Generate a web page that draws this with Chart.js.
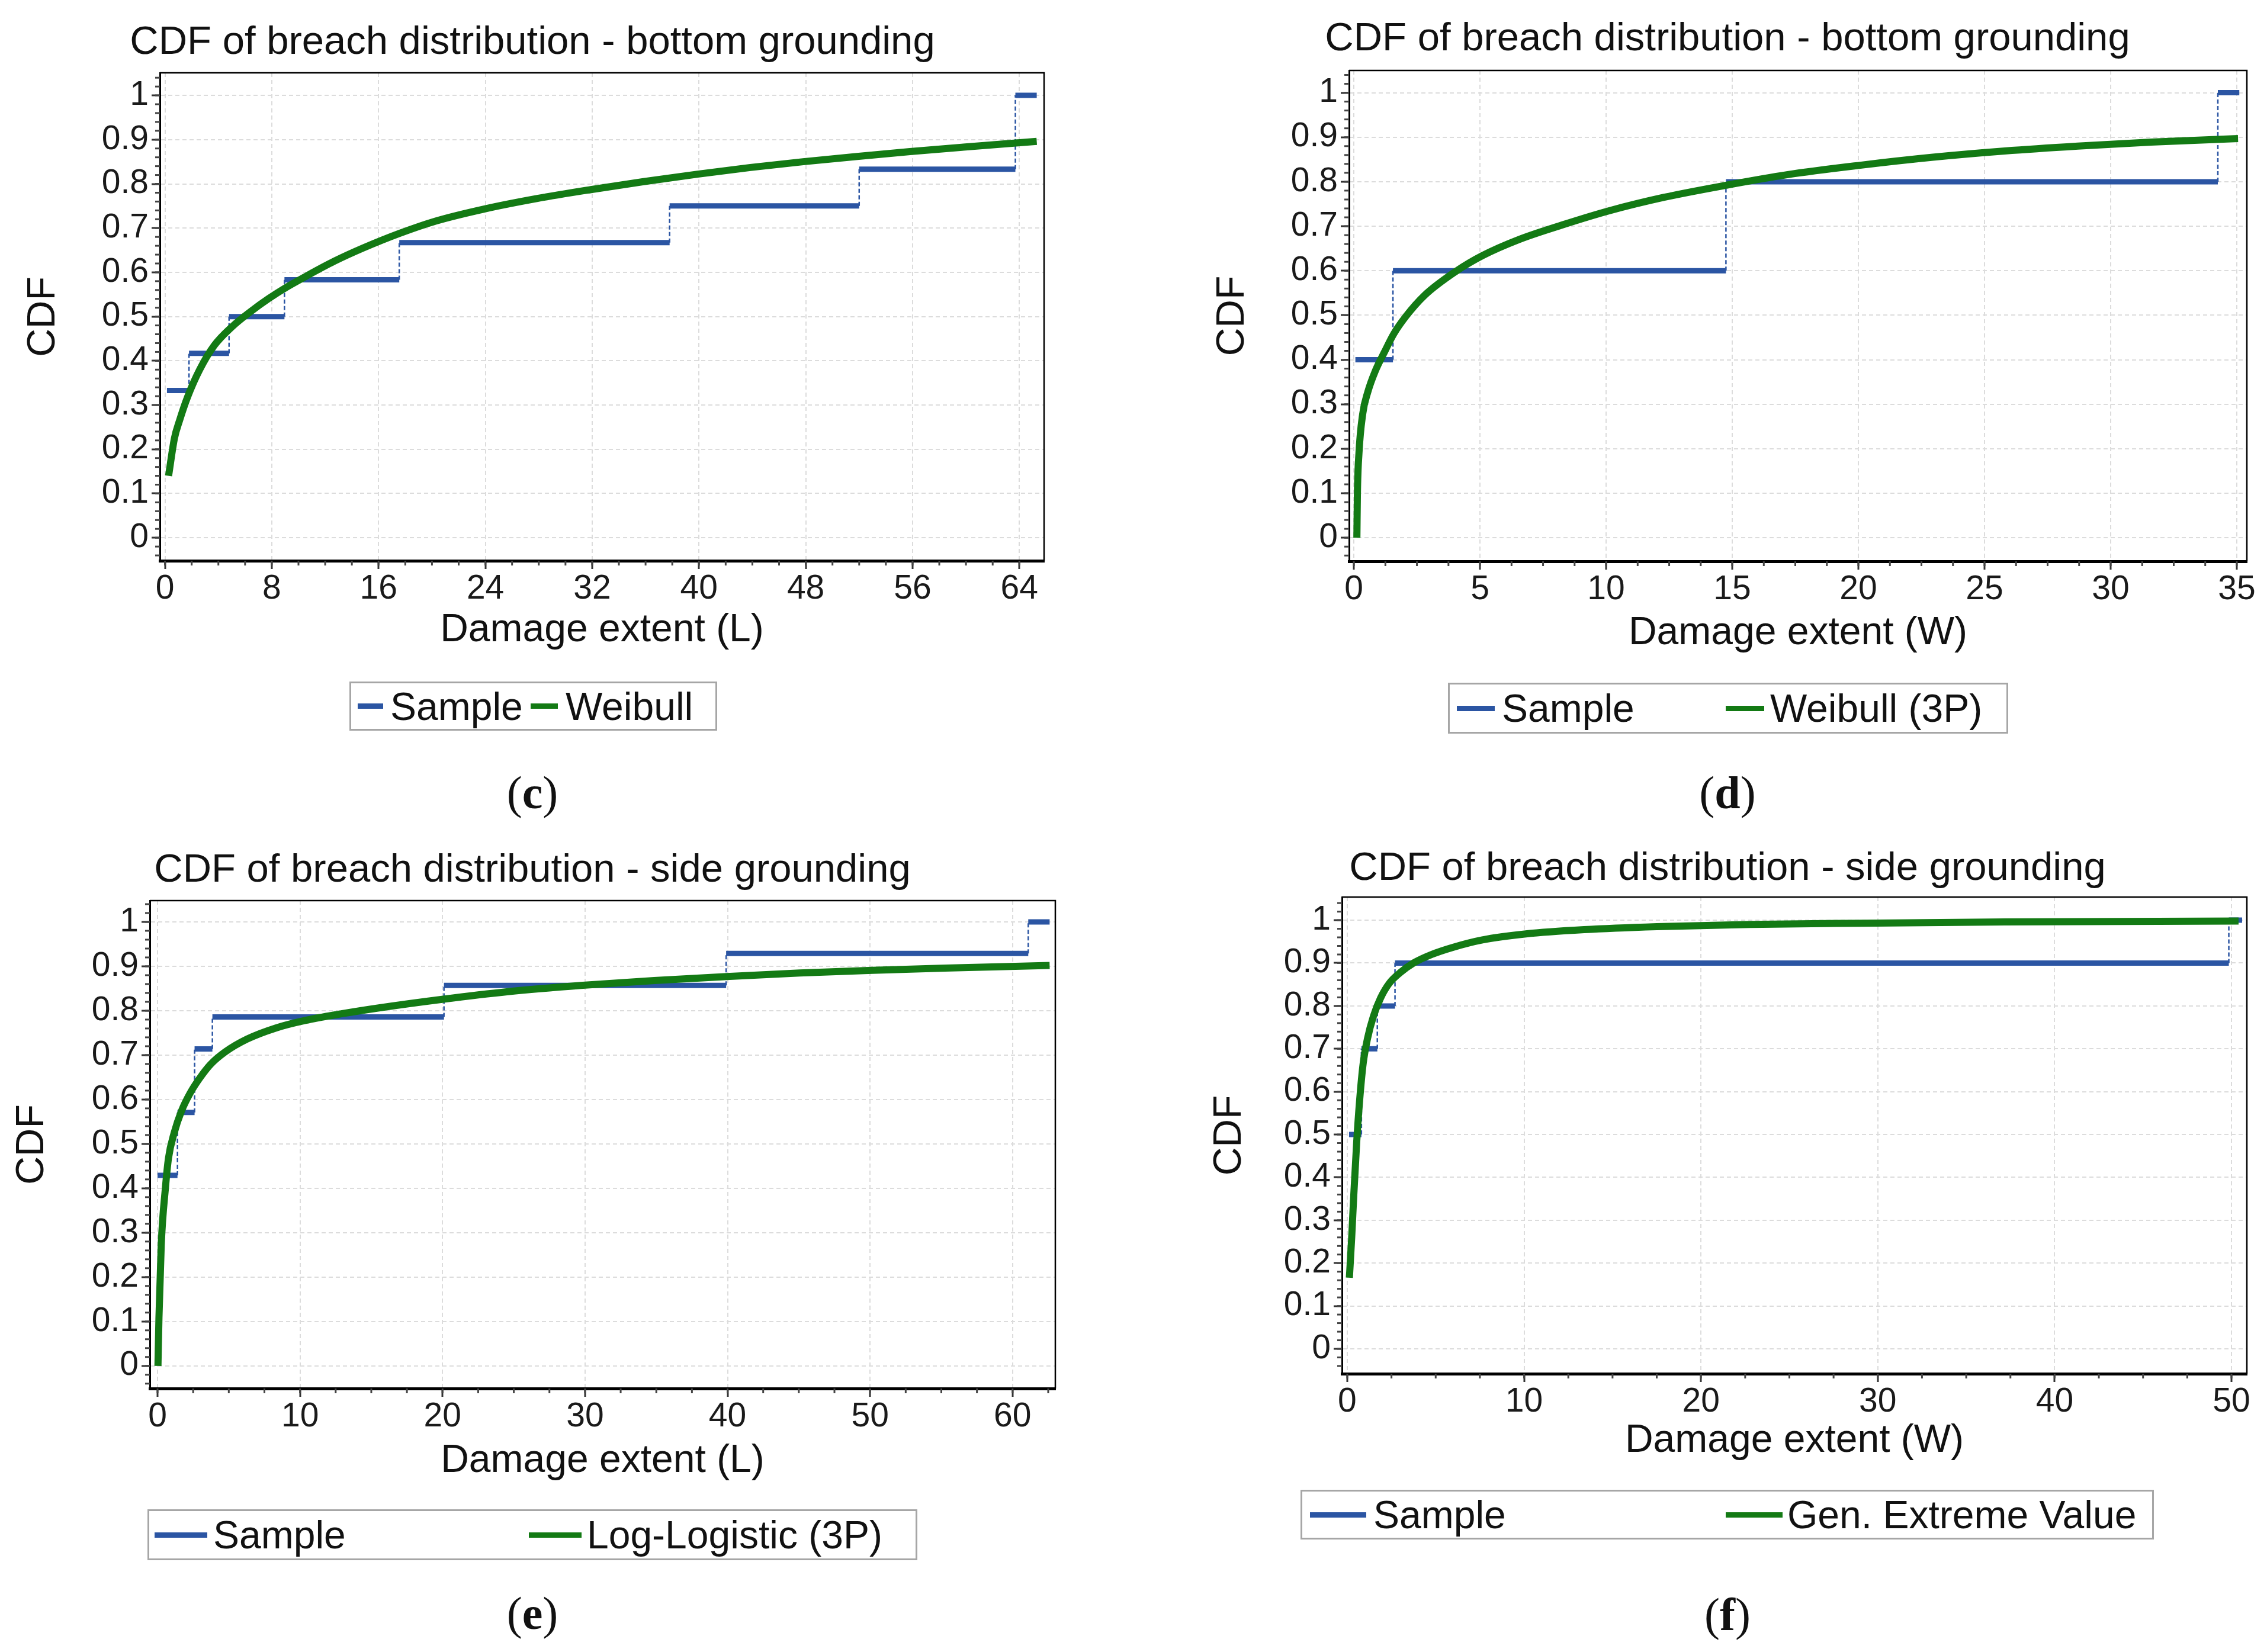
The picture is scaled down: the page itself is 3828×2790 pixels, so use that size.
<!DOCTYPE html>
<html><head><meta charset="utf-8">
<script src="https://cdn.jsdelivr.net/npm/chart.js@4.4.1/dist/chart.umd.min.js"></script>
<style>
html,body{margin:0;padding:0;background:#fff;}
#page{position:relative;width:3828px;height:2790px;overflow:hidden;background:#fff;font-family:"Liberation Sans",Arial,sans-serif;}
canvas{position:absolute;}
.title{position:absolute;width:2000px;text-align:center;font-size:67px;line-height:1;color:#111;white-space:nowrap;}
.legend{position:absolute;border:3px solid #a6a6a6;box-sizing:border-box;}
.lg-line{position:absolute;height:9px;}
.lg-text{position:absolute;font-size:66px;line-height:1;color:#111;white-space:nowrap;}
.caption{position:absolute;width:400px;text-align:center;font-family:"Liberation Serif","DejaVu Serif",serif;font-size:78px;line-height:1;color:#111;}
</style></head>
<body><div id="page"></div>
<script>
// ---------------- DATA ----------------
const yTicks = [0, 0.1, 0.2, 0.3, 0.4, 0.5, 0.6, 0.7, 0.8, 0.9, 1];

// (c) bottom grounding, length, Weibull
const cTicksX = [0, 8, 16, 24, 32, 40, 48, 56, 64];
const cSampleX = [0.15, 1.8, 4.8, 8.95, 17.55, 37.8, 52.0, 63.7];
const cSampleY = [0.333, 0.417, 0.5, 0.583, 0.667, 0.75, 0.833, 1.0];
const cSampleEnd = 65.3;
const cFitX = [0.27, 0.71, 1.09, 1.69, 2.6, 3.7, 5.06, 6.4, 7.78, 9.14, 10.5, 12.68, 14.85, 17.57, 20.3, 23.9, 27.9, 31.9, 35.85, 39.9, 43.85, 47.8, 51.85, 55.8, 59.8, 65.3];
const cFitY = [0.14, 0.225, 0.265, 0.318, 0.38, 0.435, 0.478, 0.511, 0.541, 0.567, 0.59, 0.625, 0.655, 0.688, 0.716, 0.743, 0.767, 0.787, 0.805, 0.822, 0.837, 0.85, 0.862, 0.873, 0.883, 0.896];

// (d) bottom grounding, width, Weibull (3P)
const dTicksX = [0, 5, 10, 15, 20, 25, 30, 35];
const dSampleX = [0.06, 1.55, 14.75, 34.25];
const dSampleY = [0.4, 0.6, 0.8, 1.0];
const dSampleEnd = 35.1;
const dFitX = [0.12, 0.14, 0.2, 0.35, 0.55, 0.86, 1.21, 1.58, 2.07, 2.79, 4.03, 5.1, 6.54, 8.27, 10.14, 12.3, 14.75, 17.2, 20.07, 22.95, 25.8, 28.7, 31.6, 35.05];
const dFitY = [0.0, 0.098, 0.188, 0.278, 0.327, 0.376, 0.417, 0.458, 0.498, 0.544, 0.598, 0.634, 0.67, 0.703, 0.735, 0.765, 0.792, 0.816, 0.837, 0.855, 0.869, 0.88, 0.889, 0.897];

// (e) side grounding, length, Log-Logistic (3P)
const eTicksX = [0, 10, 20, 30, 40, 50, 60];
const eSampleX = [0.0, 1.4, 2.6, 3.85, 20.1, 39.9, 61.1];
const eSampleY = [0.429, 0.571, 0.714, 0.786, 0.857, 0.929, 1.0];
const eSampleEnd = 62.6;
const eFitX = [0.03, 0.1, 0.26, 0.56, 0.77, 1.17, 1.68, 2.3, 2.96, 3.72, 4.74, 6.28, 8.3, 10.36, 12.9, 15.46, 20.05, 24.6, 29.7, 34.85, 39.95, 45.05, 50.15, 55.25, 62.6];
const eFitY = [0.0, 0.108, 0.272, 0.403, 0.468, 0.525, 0.574, 0.615, 0.648, 0.679, 0.707, 0.736, 0.761, 0.778, 0.793, 0.806, 0.826, 0.843, 0.857, 0.868, 0.877, 0.885, 0.891, 0.896, 0.902];

// (f) side grounding, width, Gen. Extreme Value
const fTicksX = [0, 10, 20, 30, 40, 50];
const fSampleX = [0.1, 0.8, 1.7, 2.7, 49.85];
const fSampleY = [0.5, 0.7, 0.8, 0.9, 1.0];
const fSampleEnd = 50.6;
const fFitX = [0.12, 0.25, 0.37, 0.53, 0.7, 0.9, 1.15, 1.48, 1.89, 2.38, 3.0, 3.74, 4.77, 6.0, 7.64, 10.1, 13.4, 17.5, 22.8, 29.0, 37.2, 50.4];
const fFitY = [0.166, 0.26, 0.36, 0.48, 0.58, 0.666, 0.725, 0.776, 0.819, 0.853, 0.878, 0.9, 0.92, 0.937, 0.954, 0.968, 0.978, 0.985, 0.99, 0.993, 0.996, 0.998];

const chartTitles = ['CDF of breach distribution - bottom grounding', 'CDF of breach distribution - bottom grounding', 'CDF of breach distribution - side grounding', 'CDF of breach distribution - side grounding'];
const xTitles = ['Damage extent (L)', 'Damage extent (W)', 'Damage extent (L)', 'Damage extent (W)'];
const yTitle = 'CDF';
const sampleName = 'Sample';
const fitNames = ['Weibull', 'Weibull (3P)', 'Log-Logistic (3P)', 'Gen. Extreme Value'];
const captions = ['c', 'd', 'e', 'f'];

// ---------------- STYLE / LAYOUT ----------------
const BLUE = '#2b55a3';
const GREEN = '#137a14';
Chart.defaults.font.family = '"Liberation Sans", Arial, sans-serif';

const panels = [
  {sx:cSampleX, sy:cSampleY, se:cSampleEnd, fx:cFitX, fy:cFitY, ticks:cTicksX, minor:2, xmin:-0.38, xmax:65.85, ymin:-0.052, ymax:1.051,
   L:270, T:123, R:1763, B:947, yt:74, xt:1065, tc:[899,67], cap:[899,1341],
   box:[590,1151,1211,1234], l1:[604,647], t1:659, l2:[896,942], t2:955},
  {sx:dSampleX, sy:dSampleY, se:dSampleEnd, fx:dFitX, fy:dFitY, ticks:dTicksX, minor:1.25, xmin:-0.19, xmax:35.4, ymin:-0.053, ymax:1.05,
   L:2278, T:119, R:3794, B:948, yt:2082, xt:1070, tc:[2917,61], cap:[2917,1341],
   box:[2445,1153,3391,1239], l1:[2460,2524], t1:2536, l2:[2914,2979], t2:2989},
  {sx:eSampleX, sy:eSampleY, se:eSampleEnd, fx:eFitX, fy:eFitY, ticks:eTicksX, minor:2.5, xmin:-0.54, xmax:63.0, ymin:-0.051, ymax:1.048,
   L:253, T:1521, R:1782, B:2345, yt:55, xt:2468, tc:[899,1465], cap:[899,2727],
   box:[249,2549,1549,2635], l1:[261,350], t1:360, l2:[893,982], t2:991},
  {sx:fSampleX, sy:fSampleY, se:fSampleEnd, fx:fFitX, fy:fFitY, ticks:fTicksX, minor:2.5, xmin:-0.3, xmax:50.87, ymin:-0.058, ymax:1.054,
   L:2266, T:1515, R:3794, B:2320, yt:2077, xt:2434, tc:[2917,1462], cap:[2917,2729],
   box:[2196,2516,3637,2600], l1:[2212,2307], t1:2319, l2:[2914,3010], t2:3018}
];

const page = document.getElementById('page');
function el(tag, cls, css, html){ const e=document.createElement(tag); if(cls) e.className=cls; Object.assign(e.style, css||{}); if(html!==undefined) e.innerHTML=html; page.appendChild(e); return e; }

const framePlugin = {
  id:'frame',
  afterDraw(chart){
    const {ctx, chartArea:a} = chart;
    ctx.save(); ctx.strokeStyle='#000'; ctx.lineWidth=2.5; ctx.setLineDash([]);
    ctx.beginPath(); ctx.moveTo(a.left, a.top); ctx.lineTo(a.right, a.top); ctx.lineTo(a.right, a.bottom); ctx.stroke();
    ctx.restore();
  }
};
const minorPlugin = {
  id:'minorTicks',
  afterDraw(chart, args, opts){
    const {ctx, chartArea:a, scales} = chart;
    ctx.save(); ctx.strokeStyle='#444'; ctx.lineWidth=3; ctx.setLineDash([]);
    const xs = scales.x, ys = scales.y;
    let v = Math.ceil(xs.min/opts.x - 1e-9)*opts.x;
    for(; v <= xs.max + 1e-9; v += opts.x){ const p = xs.getPixelForValue(v); ctx.beginPath(); ctx.moveTo(p, a.bottom); ctx.lineTo(p, a.bottom+8); ctx.stroke(); }
    v = Math.ceil(ys.min/opts.y - 1e-9)*opts.y;
    for(; v <= ys.max + 1e-9; v += opts.y){ const p = ys.getPixelForValue(v); ctx.beginPath(); ctx.moveTo(a.left-8, p); ctx.lineTo(a.left, p); ctx.stroke(); }
    ctx.restore();
  }
};

function yLabel(v){ if (Math.abs(v) < 1e-9) return '0'; if (Math.abs(v-1) < 1e-9) return '1'; return v.toFixed(1); }

panels.forEach((P, i) => {
  const off = 50;
  const cl = P.yt - off, ct = P.T - 20, cr = P.R + 24, cb = P.xt + off;
  const W = cr - cl, H = cb - ct;
  const yW = P.L - cl, xH = cb - P.B;
  const cv = el('canvas', '', {left: cl+'px', top: ct+'px', width: W+'px', height: H+'px'});
  cv.width = W; cv.height = H;

  const fit = P.fx.map((x, k) => ({x, y: P.fy[k]}));
  const hSeg = [], vSeg = [];
  for (let k = 0; k < P.sx.length; k++) {
    const x2 = k < P.sx.length - 1 ? P.sx[k+1] : P.se;
    hSeg.push({x: P.sx[k], y: P.sy[k]}, {x: x2, y: P.sy[k]}, {x: x2, y: null});
    if (k < P.sx.length - 1) vSeg.push({x: P.sx[k+1], y: P.sy[k]}, {x: P.sx[k+1], y: P.sy[k+1]}, {x: P.sx[k+1], y: null});
  }
  const titleFont = {size: 66};
  new Chart(cv, {
    type: 'line',
    data: {datasets: [
      {label: fitNames[i], data: fit, borderColor: GREEN, backgroundColor: GREEN, borderWidth: 12, pointRadius: 0, cubicInterpolationMode: 'monotone', borderCapStyle: 'butt', fill: false},
      {label: sampleName, data: hSeg, borderColor: BLUE, backgroundColor: BLUE, borderWidth: 9, pointRadius: 0, spanGaps: false, borderCapStyle: 'butt', fill: false},
      {label: '', data: vSeg, borderColor: BLUE, borderWidth: 2.5, borderDash: [7, 4], pointRadius: 0, spanGaps: false, fill: false}
    ]},
    options: {
      responsive: false, animation: false, devicePixelRatio: 1, events: [],
      layout: {padding: {top: 20, right: 24, left: 0, bottom: 0}},
      plugins: {legend: {display: false}, tooltip: {enabled: false}, title: {display: false}, minorTicks: {x: P.minor, y: 0.02}},
      scales: {
        x: {type: 'linear', min: P.xmin, max: P.xmax,
          afterFit(s){ s.height = xH; s.paddingLeft = 0; s.paddingRight = 0; },
          afterBuildTicks(s){ s.ticks = P.ticks.map(v => ({value: v})); },
          ticks: {autoSkip: false, maxRotation: 0, minRotation: 0, padding: 0, font: {size: 57}, color: '#1a1a1a', callback: v => String(v)},
          grid: {color: '#dcdcdc', lineWidth: 2, tickLength: 14, tickWidth: 3, tickColor: '#333', drawOnChartArea: true},
          border: {display: true, color: '#000', width: 5, dash: [7, 5]},
          title: {display: true, text: xTitles[i], font: titleFont, color: '#111', padding: {top: 0, bottom: off - 39.6}}
        },
        y: {type: 'linear', min: P.ymin, max: P.ymax,
          afterFit(s){ s.width = yW; s.paddingTop = 0; s.paddingBottom = 0; },
          afterBuildTicks(s){ s.ticks = yTicks.map(v => ({value: v})); },
          ticks: {autoSkip: false, padding: 5, font: {size: 57}, color: '#1a1a1a', callback: v => yLabel(v)},
          grid: {color: '#dcdcdc', lineWidth: 2, tickLength: 14, tickWidth: 3, tickColor: '#333', drawOnChartArea: true},
          border: {display: true, color: '#000', width: 3, dash: [7, 5]},
          title: {display: true, text: yTitle, font: titleFont, color: '#111', padding: {top: off - 39.6, bottom: 0}}
        }
      }
    },
    plugins: [framePlugin, minorPlugin]
  });

  // title
  el('div', 'title', {left: (P.tc[0]-1000)+'px', top: (P.tc[1]-33)+'px'}, chartTitles[i]);
  // legend box
  const b = P.box, cy = (b[1]+b[3])/2;
  el('div', 'legend', {left: b[0]+'px', top: b[1]+'px', width: (b[2]-b[0])+'px', height: (b[3]-b[1])+'px'});
  el('div', 'lg-line', {left: P.l1[0]+'px', width: (P.l1[1]-P.l1[0])+'px', top: (cy-4.5)+'px', background: BLUE});
  el('div', 'lg-text', {left: P.t1+'px', top: (cy-33)+'px'}, sampleName);
  el('div', 'lg-line', {left: P.l2[0]+'px', width: (P.l2[1]-P.l2[0])+'px', top: (cy-4.5)+'px', background: GREEN});
  el('div', 'lg-text', {left: P.t2+'px', top: (cy-33)+'px'}, fitNames[i]);
  // caption
  el('div', 'caption', {left: (P.cap[0]-200)+'px', top: (P.cap[1]-41)+'px'}, '(<b>' + captions[i] + '</b>)');
});
</script>
</body></html>
